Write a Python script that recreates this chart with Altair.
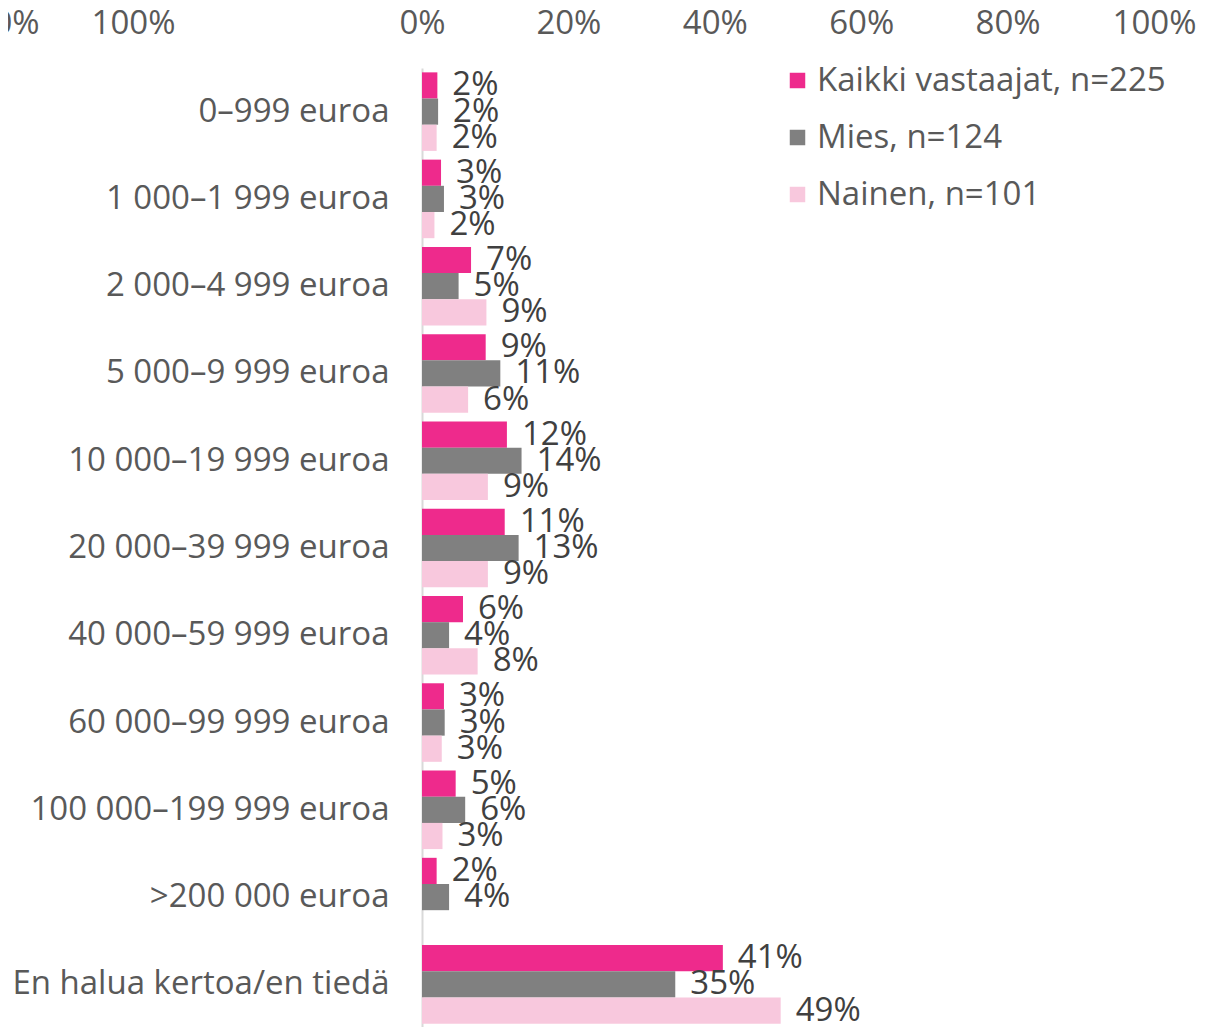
import altair as alt
import pandas as pd

categories = [
    "0\u2013999 euroa",
    "1 000\u20131 999 euroa",
    "2 000\u20134 999 euroa",
    "5 000\u20139 999 euroa",
    "10 000\u201319 999 euroa",
    "20 000\u201339 999 euroa",
    "40 000\u201359 999 euroa",
    "60 000\u201399 999 euroa",
    "100 000\u2013199 999 euroa",
    ">200 000 euroa",
    "En halua kertoa/en tiedä",
]
series = ["Kaikki vastaajat, n=225", "Mies, n=124", "Nainen, n=101"]
colors = ["#EE2A8C", "#808080", "#F8C8DD"]

kaikki = [2.1, 2.6, 6.7, 8.7, 11.6, 11.3, 5.6, 3.0, 4.6, 2.0, 41.1]
mies = [2.2, 3.0, 5.0, 10.7, 13.6, 13.2, 3.7, 3.1, 5.9, 3.7, 34.6]
nainen = [2.0, 1.7, 8.8, 6.3, 9.0, 9.0, 7.6, 2.7, 2.8, None, 49.0]

x_ticks = [0, 20, 40, 60, 80, 100]
stray_ticks = [0, 100]

rows = []
for s, vals in zip(series, [kaikki, mies, nainen]):
    for c, v in zip(categories, vals):
        if v is None:
            continue
        rows.append({"cat": c, "series": s, "value": v, "label": f"{int(v + 0.5)}%"})
df = pd.DataFrame(rows)

FONT = "Open Sans"
FS = 33
AXIS_COL = "#595959"
LABEL_COL = "#404040"

y_enc = alt.Y("cat:N", sort=categories,
              scale=alt.Scale(paddingInner=0.1, paddingOuter=0.05),
              axis=alt.Axis(title=None, ticks=False, domain=True, domainColor="#D9D9D9",
                            domainWidth=2, labelFontSize=FS, labelColor=AXIS_COL,
                            labelPadding=33, labelFont=FONT, labelLimit=0))
yoff = alt.YOffset("series:N", sort=series)

x_scale = alt.Scale(domain=[0, 100])
x_enc = alt.X("value:Q", scale=x_scale,
              axis=alt.Axis(orient="top", values=x_ticks, labelExpr="datum.value + '%'",
                            grid=False, ticks=False, domain=False, labelFontSize=FS,
                            labelColor=AXIS_COL, labelPadding=28, labelFlush=False,
                            labelFont=FONT, title=None))

bars = alt.Chart(df).mark_bar().encode(
    x=x_enc,
    y=y_enc,
    yOffset=yoff,
    color=alt.Color("series:N", sort=series,
                    scale=alt.Scale(domain=series, range=colors),
                    legend=alt.Legend(title=None, orient="none", legendX=359, legendY=-4,
                                      symbolType="square", symbolSize=240,
                                      symbolStrokeWidth=0, labelFontSize=FS,
                                      labelColor=AXIS_COL, labelFont=FONT,
                                      rowPadding=23, labelOffset=3, labelLimit=0)),
)

texts = alt.Chart(df).mark_text(align="left", baseline="middle", dx=15, fontSize=FS,
                                font=FONT, color=LABEL_COL).encode(
    x=alt.X("value:Q", scale=x_scale, axis=None),
    y=alt.Y("cat:N", sort=categories),
    yOffset=yoff,
    text="label:N",
)

stray = alt.Chart(pd.DataFrame({"v": stray_ticks})).mark_point(opacity=0).encode(
    x=alt.X("v:Q", scale=alt.Scale(domain=[0, 100], range=[-406, -289]),
            axis=alt.Axis(orient="top", values=stray_ticks, labelExpr="datum.value + '%'",
                          grid=False, ticks=False, domain=False, labelFontSize=FS,
                          labelColor=AXIS_COL, labelPadding=28, labelFlush=False,
                          labelFont=FONT, title=None)),
)

chart = alt.layer(bars, texts, stray).resolve_scale(x="independent").properties(
    width=732, height=960,
    autosize=alt.AutoSizeParams(type="none"),
    padding={"left": 414, "top": 60, "right": 60, "bottom": 10},
).configure(font=FONT).configure_view(strokeWidth=0, stroke="transparent")

chart.save("out.html", embed_options={"renderer": "svg", "actions": False})
